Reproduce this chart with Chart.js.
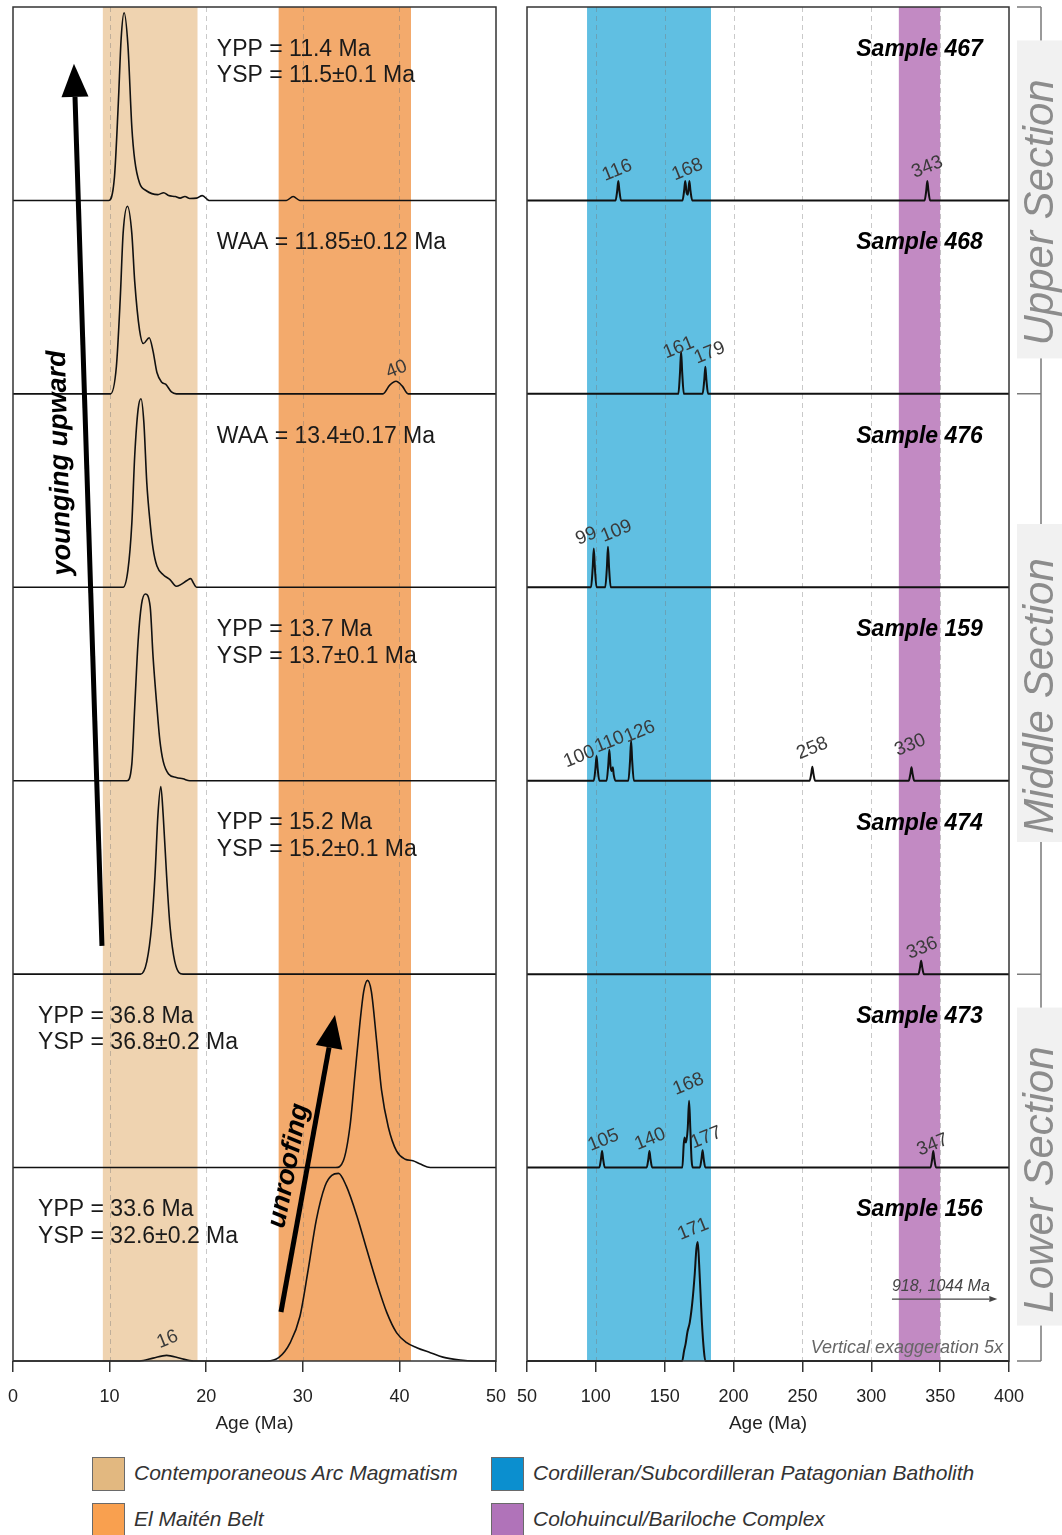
<!DOCTYPE html>
<html>
<head>
<meta charset="utf-8">
<script src="https://cdn.jsdelivr.net/npm/chart.js@4.4.1/dist/chart.umd.min.js"></script>
<style>
  body { margin: 0; background: #fff; width: 1062px; height: 1535px; overflow: hidden; position: relative; font-family: "Liberation Sans", Arial, sans-serif; }
  #left { position: absolute; left: 0; top: 0; }
  #right { position: absolute; left: 512px; top: 0; }
  .sw { position: absolute; width: 33px; height: 34px; box-sizing: border-box; border: 1.5px solid #6a6a6a; }
  .lg { position: absolute; font-style: italic; font-size: 21px; color: #333; line-height: 24px; white-space: nowrap; }
</style>
</head>
<body>
<canvas id="left" width="512" height="1440"></canvas>
<canvas id="right" width="550" height="1440"></canvas>
<div id="legend"></div>
<script>
const FONT = '"Liberation Sans", Arial, sans-serif';

// samples, top to bottom
const samples = ['467', '468', '476', '159', '474', '473', '156'];

// left panel (0-50 Ma): [age, density as fraction of row height]
const young467 = [[0,0],[9.9,0],[10.5,0.12],[10.9,0.5],[11.2,0.84],[11.5,0.97],[11.9,0.8],[12.3,0.38],[12.6,0.21],[13.1,0.09],[13.8,0.05],[15.0,0.03],[15.6,0.04],[16.1,0.025],[16.8,0.02],[17.3,0.012],[17.8,0.02],[18.3,0.01],[19.0,0.012],[19.6,0.025],[20.3,0],[28.3,0],[29.0,0.02],[29.7,0],[50,0]];
const young468 = [[0,0],[10.1,0],[10.7,0.14],[11.1,0.49],[11.4,0.83],[11.85,0.97],[12.3,0.83],[12.6,0.58],[13.1,0.33],[13.5,0.26],[14.1,0.29],[14.5,0.22],[14.9,0.11],[15.4,0.06],[15.8,0.05],[16.4,0.01],[16.9,0],[38.3,0],[39.0,0.045],[39.65,0.065],[40.3,0.04],[40.9,0],[50,0]];
const young476 = [[0,0],[11.4,0],[11.9,0.09],[12.3,0.33],[12.6,0.68],[12.95,0.92],[13.25,0.975],[13.55,0.85],[13.85,0.54],[14.2,0.33],[14.5,0.2],[14.9,0.11],[15.55,0.065],[16.25,0.04],[16.9,0.005],[17.4,0.015],[18.0,0.035],[18.4,0.045],[18.7,0.02],[19.0,0],[50,0]];
const young159 = [[0,0],[11.8,0],[12.3,0.086],[12.6,0.38],[12.95,0.72],[13.3,0.91],[13.7,0.965],[14.2,0.9],[14.5,0.64],[14.9,0.38],[15.2,0.21],[15.55,0.1],[16.1,0.035],[16.9,0.017],[17.6,0.01],[18.3,0],[50,0]];
const young474 = [[0,0],[13.2,0],[13.85,0.065],[14.35,0.25],[14.7,0.51],[15.0,0.82],[15.3,0.97],[15.55,0.82],[15.9,0.51],[16.25,0.25],[16.75,0.065],[17.6,0],[50,0]];
const young473 = [[0,0],[33.4,0],[34.2,0.035],[34.9,0.22],[35.4,0.48],[35.9,0.74],[36.3,0.91],[36.7,0.968],[37.1,0.91],[37.65,0.65],[38.15,0.4],[38.85,0.21],[39.7,0.086],[40.6,0.043],[41.4,0.035],[42.1,0.02],[43.2,0],[50,0]];
const young156 = [[0,0],[13.1,0],[14.5,0.015],[15.9,0.029],[17.3,0.014],[18.7,0],[26.3,0],[27.5,0.017],[28.7,0.095],[29.7,0.23],[30.55,0.47],[31.4,0.73],[32.3,0.905],[33.0,0.96],[33.7,0.97],[34.5,0.905],[35.6,0.75],[36.6,0.58],[37.65,0.405],[38.7,0.25],[39.7,0.147],[40.75,0.095],[41.8,0.069],[43.2,0.043],[44.5,0.02],[46.3,0.005],[47.7,0],[50,0]];
const youngCurves = [young467, young468, young476, young159, young474, young473, young156];

// right panel (50-400 Ma)
const old467 = [[50,0],[114.3,0],[115.5,0.05],[116.3,0.1],[117.1,0.05],[118.3,0],[162.9,0],[164.1,0.05],[164.9,0.1],[165.9,0.04],[166.8,0.03],[167.9,0.1],[168.7,0.05],[170,0],[338.7,0],[339.9,0.05],[340.7,0.1],[341.5,0.05],[342.7,0],[400,0]];
const old468 = [[50,0],[159.9,0],[161.1,0.11],[161.9,0.22],[162.7,0.11],[163.9,0],[177.5,0],[178.7,0.07],[179.5,0.14],[180.3,0.07],[181.5,0],[400,0]];
const old476 = [[50,0],[96.5,0],[97.7,0.1],[98.5,0.2],[99.3,0.1],[100.5,0],[106.8,0],[108,0.1],[108.8,0.21],[109.6,0.1],[110.8,0],[400,0]];
const old159 = [[50,0],[98.5,0],[99.7,0.064],[100.5,0.128],[101.3,0.064],[102.5,0],[107.8,0],[109,0.08],[109.8,0.16],[110.7,0.07],[111.6,0.05],[112.3,0.07],[113,0.03],[114.2,0],[123.6,0],[124.8,0.1],[125.6,0.207],[126.4,0.1],[127.6,0],[255.2,0],[256.4,0.036],[257.2,0.072],[258,0.036],[259.2,0],[327.2,0],[328.4,0.035],[329.2,0.069],[330,0.035],[331.2,0],[400,0]];
const old474 = [[50,0],[334.2,0],[335.4,0.035],[336.2,0.069],[337,0.035],[338.2,0],[400,0]];
const old473 = [[50,0],[102.5,0],[103.7,0.043],[104.5,0.086],[105.3,0.043],[106.5,0],[136.9,0],[138.1,0.043],[138.9,0.086],[139.7,0.043],[140.9,0],[162.8,0],[163.8,0.12],[164.4,0.155],[165.4,0.13],[166.7,0.2],[167.7,0.345],[168.6,0.2],[169.5,0.04],[170.5,0],[175.5,0],[176.7,0.045],[177.5,0.09],[178.3,0.045],[179.5,0],[343,0],[344.2,0.043],[345,0.086],[345.8,0.043],[347,0],[400,0]];
const old156 = [[50,0],[162.7,0],[164,0.05],[165.2,0.09],[166.5,0.15],[168.2,0.2],[170,0.3],[171.8,0.45],[173,0.58],[174,0.615],[175,0.5],[176,0.35],[177,0.2],[178.5,0.05],[179.5,0],[400,0]];
const oldCurves = [old467, old468, old476, old159, old474, old473, old156];

// reference age bands
const youngBands = [[9.3, 19.1], [27.5, 41.2]];
const youngBandColors = ['#efd3b0', '#f3aa6c'];
const oldBands = [[93.6, 183.6], [320, 350]];
const oldBandColors = ['#60bfe2', '#c28ac3'];

const youngTicks = [0, 10, 20, 30, 40, 50];
const oldTicks = [50, 100, 150, 200, 250, 300, 350, 400];

// annotations: [row, lines, age]
const youngNotes = [
  [0, ['YPP = 11.4 Ma', 'YSP = 11.5±0.1 Ma'], 21.1],
  [1, ['WAA = 11.85±0.12 Ma'], 21.1],
  [2, ['WAA = 13.4±0.17 Ma'], 21.1],
  [3, ['YPP = 13.7 Ma', 'YSP = 13.7±0.1 Ma'], 21.1],
  [4, ['YPP = 15.2 Ma', 'YSP = 15.2±0.1 Ma'], 21.1],
  [5, ['YPP = 36.8 Ma', 'YSP = 36.8±0.2 Ma'], 2.6],
  [6, ['YPP = 33.6 Ma', 'YSP = 32.6±0.2 Ma'], 2.6]
];
// peak labels: [row, age, level, text]
const youngPeakLabels = [[1, 39.7, 0.126, '40'], [6, 16.0, 0.112, '16']];
const oldPeakLabels = [
  [0, 115.5, 0.155, '116'], [0, 166.5, 0.159, '168'], [0, 340.7, 0.172, '343'],
  [1, 160.2, 0.238, '161'], [1, 182.7, 0.212, '179'],
  [2, 93.0, 0.264, '99'], [2, 115.0, 0.29, '109'],
  [3, 88.0, 0.124, '100'], [3, 110.0, 0.2, '110'], [3, 131.8, 0.253, '126'], [3, 257.2, 0.167, '258'], [3, 328.2, 0.184, '330'],
  [4, 337.0, 0.134, '336'],
  [5, 105.5, 0.141, '105'], [5, 139.4, 0.147, '140'], [5, 167.2, 0.431, '168'], [5, 180.0, 0.155, '177'], [5, 344.5, 0.117, '347'],
  [6, 170.7, 0.681, '171']
];

const sections = ['Upper Section', 'Middle Section', 'Lower Section'];
const sectionRows = [[0, 2], [2, 5], [5, 7]];

const legendLabels = ['Contemporaneous Arc Magmatism', 'Cordilleran/Subcordilleran Patagonian Batholith', 'El Maitén Belt', 'Colohuincul/Bariloche Complex'];
const legendColors = ['#e2b880', '#0b8fcf', '#f9a04f', '#b073b9'];

function rowBase(i) { return 6 - i; }

function makeDatasets(curves, width) {
  return curves.map((pts, i) => ({
    label: 'Sample ' + samples[i],
    data: pts.map(p => ({ x: p[0], y: rowBase(i) + p[1] })),
    borderColor: '#111',
    borderWidth: width,
    pointRadius: 0,
    fill: false,
    cubicInterpolationMode: 'monotone',
    clip: 4
  }));
}

function xAxis(min, max, ticks) {
  return {
    type: 'linear', min: min, max: max, position: 'bottom',
    afterFit: s => { s.height = 79; s.paddingLeft = 0; s.paddingRight = 0; },
    afterBuildTicks: s => { s.ticks = ticks.map(v => ({ value: v })); },
    ticks: { color: '#222', font: { family: FONT, size: 18 }, padding: 14, maxRotation: 0, autoSkip: false },
    grid: { drawOnChartArea: false, tickLength: 11, color: '#333', lineWidth: 1.5 },
    border: { display: false },
    title: { display: true, text: 'Age (Ma)', color: '#222', font: { family: FONT, size: 19 }, padding: { top: 0, bottom: 5 } }
  };
}

function drawBands(chart, bands, colors, grid) {
  const { ctx, chartArea: a, scales: { x } } = chart;
  ctx.save();
  ctx.beginPath();
  ctx.rect(a.left, a.top, a.width, a.height);
  ctx.clip();
  bands.forEach((b, i) => {
    const x0 = x.getPixelForValue(b[0]), x1 = x.getPixelForValue(b[1]);
    ctx.fillStyle = colors[i];
    ctx.fillRect(x0, a.top, x1 - x0, a.height);
  });
  ctx.strokeStyle = 'rgba(120,120,120,0.4)';
  ctx.lineWidth = 1;
  ctx.setLineDash([5, 4]);
  grid.slice(1, -1).forEach(v => {
    const px = Math.round(x.getPixelForValue(v)) + 0.5;
    ctx.beginPath();
    ctx.moveTo(px, a.top);
    ctx.lineTo(px, a.bottom);
    ctx.stroke();
  });
  ctx.restore();
}

function drawFrame(chart) {
  const { ctx, chartArea: a } = chart;
  ctx.save();
  ctx.strokeStyle = '#333';
  ctx.lineWidth = 1.5;
  ctx.strokeRect(a.left, a.top, a.width, a.height);
  ctx.restore();
}

function rotText(ctx, text, x, y, deg, font, color, align) {
  ctx.save();
  ctx.translate(x, y);
  ctx.rotate(deg * Math.PI / 180);
  ctx.font = font;
  ctx.fillStyle = color;
  ctx.textAlign = align || 'center';
  ctx.textBaseline = 'middle';
  ctx.fillText(text, 0, 0);
  ctx.restore();
}

function arrow(ctx, x0, y0, x1, y1, w, headLen, headHalf, color) {
  const ang = Math.atan2(y1 - y0, x1 - x0);
  const bx = x1 - headLen * Math.cos(ang), by = y1 - headLen * Math.sin(ang);
  ctx.save();
  ctx.strokeStyle = color;
  ctx.fillStyle = color;
  ctx.lineWidth = w;
  ctx.beginPath();
  ctx.moveTo(x0, y0);
  ctx.lineTo(bx, by);
  ctx.stroke();
  ctx.beginPath();
  ctx.moveTo(x1, y1);
  ctx.lineTo(bx + headHalf * Math.sin(ang), by - headHalf * Math.cos(ang));
  ctx.lineTo(bx - headHalf * Math.sin(ang), by + headHalf * Math.cos(ang));
  ctx.closePath();
  ctx.fill();
  ctx.restore();
}

function drawPeakLabels(chart, labels) {
  const { ctx, scales: { x, y } } = chart;
  labels.forEach(l => {
    rotText(ctx, l[3], x.getPixelForValue(l[1]), y.getPixelForValue(rowBase(l[0]) + l[2]), -22,
      '19px ' + FONT, '#3a3a3a');
  });
}

const leftDeco = {
  id: 'leftDeco',
  beforeDatasetsDraw(chart) { drawBands(chart, youngBands, youngBandColors, youngTicks); },
  afterDatasetsDraw(chart) {
    const { ctx, scales: { x, y } } = chart;
    drawFrame(chart);
    ctx.save();
    ctx.font = '23px ' + FONT;
    ctx.fillStyle = '#1a1a1a';
    ctx.textBaseline = 'middle';
    ctx.textAlign = 'left';
    youngNotes.forEach(n => {
      const py = y.getPixelForValue(rowBase(n[0]) + 0.786) + 1;
      n[1].forEach((t, k) => ctx.fillText(t, x.getPixelForValue(n[2]), py + k * 26.5));
    });
    ctx.restore();
    drawPeakLabels(chart, youngPeakLabels);

    // younging upward arrow
    arrow(ctx, x.getPixelForValue(9.21), y.getPixelForValue(2.146), x.getPixelForValue(6.31), y.getPixelForValue(6.706), 5, 33, 13.5, '#000');
    rotText(ctx, 'younging upward', x.getPixelForValue(4.9), y.getPixelForValue(4.643), -91.5, 'italic bold 27px ' + FONT, '#000');
    // unroofing arrow
    arrow(ctx, x.getPixelForValue(27.74), y.getPixelForValue(0.253), x.getPixelForValue(33.33), y.getPixelForValue(1.789), 5, 33, 13.5, '#000');
    rotText(ctx, 'unroofing', x.getPixelForValue(28.55), y.getPixelForValue(1.01), -79, 'italic bold 27px ' + FONT, '#000');
  }
};

const rightDeco = {
  id: 'rightDeco',
  beforeDatasetsDraw(chart) { drawBands(chart, oldBands, oldBandColors, oldTicks); },
  afterDatasetsDraw(chart) {
    const { ctx, chartArea: a, scales: { x, y } } = chart;
    drawFrame(chart);
    ctx.save();
    ctx.font = 'italic bold 23px ' + FONT;
    ctx.fillStyle = '#000';
    ctx.textAlign = 'right';
    ctx.textBaseline = 'middle';
    samples.forEach((s, i) => ctx.fillText('Sample ' + s, x.getPixelForValue(381), y.getPixelForValue(rowBase(i) + 0.78)));
    ctx.restore();
    drawPeakLabels(chart, oldPeakLabels);

    // older grains note
    rotText(ctx, '918, 1044 Ma', x.getPixelForValue(315), y.getPixelForValue(0.383), 0, 'italic 16px ' + FONT, '#444', 'left');
    arrow(ctx, x.getPixelForValue(315), y.getPixelForValue(0.32), x.getPixelForValue(391.5), y.getPixelForValue(0.32), 1.2, 8, 3, '#444');
    rotText(ctx, 'Vertical exaggeration 5x', x.getPixelForValue(395.7), y.getPixelForValue(0.067), 0, 'italic 18px ' + FONT, '#666', 'right');

    // section brackets
    const bx = a.right + 32;
    ctx.save();
    ctx.strokeStyle = '#7a7a7a';
    ctx.lineWidth = 1.5;
    ctx.beginPath();
    ctx.moveTo(bx, y.getPixelForValue(7));
    ctx.lineTo(bx, y.getPixelForValue(0));
    [7, 5, 2, 0].forEach(v => {
      ctx.moveTo(a.right + 8, y.getPixelForValue(v));
      ctx.lineTo(bx, y.getPixelForValue(v));
    });
    ctx.stroke();
    sectionRows.forEach((r, k) => {
      const mid = (y.getPixelForValue(rowBase(r[0]) + 1) + y.getPixelForValue(rowBase(r[1] - 1))) / 2;
      ctx.fillStyle = '#f1f1f1';
      ctx.fillRect(a.right + 8, mid - 160, 60, 318);
      rotText(ctx, sections[k], bx, mid + 12, -90, 'italic 42px ' + FONT, '#8c8c8c');
    });
    ctx.restore();
  }
};

function makeChart(id, curves, width, min, max, ticks, padding, deco) {
  return new Chart(document.getElementById(id), {
    type: 'line',
    data: { datasets: makeDatasets(curves, width) },
    options: {
      responsive: false,
      animation: false,
      devicePixelRatio: 1,
      layout: { padding: padding },
      plugins: { legend: { display: false }, tooltip: { enabled: false } },
      scales: {
        x: xAxis(min, max, ticks),
        y: { display: false, min: 0, max: 7 }
      }
    },
    plugins: [deco]
  });
}

makeChart('left', youngCurves, 1.6, 0, 50, youngTicks, { left: 13, right: 16, top: 7, bottom: 0 }, leftDeco);
makeChart('right', oldCurves, 2, 50, 400, oldTicks, { left: 15, right: 53, top: 7, bottom: 0 }, rightDeco);

// legend
const legend = document.getElementById('legend');
const legendPos = [[92, 1457], [491, 1457], [92, 1503], [491, 1503]];
legendLabels.forEach((t, i) => {
  const sw = document.createElement('div');
  sw.className = 'sw';
  sw.style.left = legendPos[i][0] + 'px';
  sw.style.top = legendPos[i][1] + 'px';
  sw.style.background = legendColors[i];
  legend.appendChild(sw);
  const lb = document.createElement('div');
  lb.className = 'lg';
  lb.textContent = t;
  lb.style.left = (legendPos[i][0] + 42) + 'px';
  lb.style.top = (legendPos[i][1] + 4) + 'px';
  legend.appendChild(lb);
});
</script>
</body>
</html>
